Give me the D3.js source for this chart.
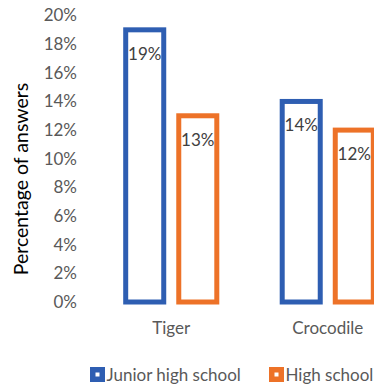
<!DOCTYPE html>
<html><head><meta charset="utf-8">
<script src="https://cdn.jsdelivr.net/npm/d3@7"></script>
<style>html,body{margin:0;padding:0;background:#fff;overflow:hidden}</style>
</head><body>
<svg id="c" width="374" height="387"></svg>
<script>
const categories = ["Tiger", "Crocodile"];
const series = ["Junior high school", "High school"];
const juniorHigh = [0.19, 0.14];
const highSchool = [0.13, 0.12];
const yTicks = [0, 0.02, 0.04, 0.06, 0.08, 0.10, 0.12, 0.14, 0.16, 0.18, 0.20];
const colors = ["#2E5EB2", "#ED7228"];
const values = [juniorHigh, highSchool];

const svg = d3.select("#c");
const font = "Lato, 'Open Sans', sans-serif";
const fs = "17px";
const y = d3.scaleLinear().domain([0, 0.20]).range([302, 15.5]);
const x0 = d3.scaleBand().domain(categories).range([93, 406]).paddingInner(0.386).paddingOuter(0.193);
const x1 = d3.scaleBand().domain(series).range([0, x0.bandwidth()]).paddingInner(0.189);

const yAxis = d3.axisLeft(y).tickValues(yTicks).tickSize(0).tickPadding(0).tickFormat(d3.format(".0%"));
const ga = svg.append("g").attr("transform", "translate(77,0)").call(yAxis);
ga.select(".domain").remove();
ga.selectAll("text").attr("fill", "#595959").style("font-family", font).style("font-size", fs);

const sw = 5;
categories.forEach((c, i) => {
  series.forEach((s, j) => {
    const v = values[j][i];
    const xl = x0(c) + x1(s);
    const w = x1.bandwidth();
    svg.append("rect")
      .attr("x", xl + sw / 2).attr("y", y(v))
      .attr("width", w - sw).attr("height", y(0) - y(v))
      .attr("fill", "#fff").attr("stroke", colors[j]).attr("stroke-width", sw);
    svg.append("text")
      .attr("x", xl + w / 2).attr("y", y(v) + 30)
      .attr("text-anchor", "middle").attr("fill", "#404040")
      .style("font-family", font).style("font-size", fs)
      .text(d3.format(".0%")(v));
  });
});

const xAxis = d3.axisBottom(x0).tickSize(0).tickPadding(0);
const gx = svg.append("g").attr("transform", "translate(0,328)").call(xAxis);
gx.select(".domain").remove();
gx.selectAll("text").attr("fill", "#595959").attr("dy", "0.35em").style("font-family", font).style("font-size", fs);

svg.append("text")
  .attr("transform", "translate(28,179) rotate(-90)")
  .attr("text-anchor", "middle").attr("fill", "#000")
  .style("font-family", font).style("font-size", "19.5px")
  .text("Percentage of answers");

const legendX = [90, 269];
series.forEach((s, j) => {
  const g = svg.append("g").attr("transform", `translate(${legendX[j]},367)`);
  g.append("rect").attr("x", 0).attr("y", 0).attr("width", 15).attr("height", 15).attr("fill", colors[j]);
  g.append("rect").attr("x", 5.5).attr("y", 5.5).attr("width", 4).attr("height", 4).attr("fill", "#fff");
  g.append("text").attr("x", 16.5).attr("y", 8).attr("dy", "0.35em")
    .attr("fill", "#595959").style("font-family", font).style("font-size", fs).text(s);
});
</script>
</body></html>
